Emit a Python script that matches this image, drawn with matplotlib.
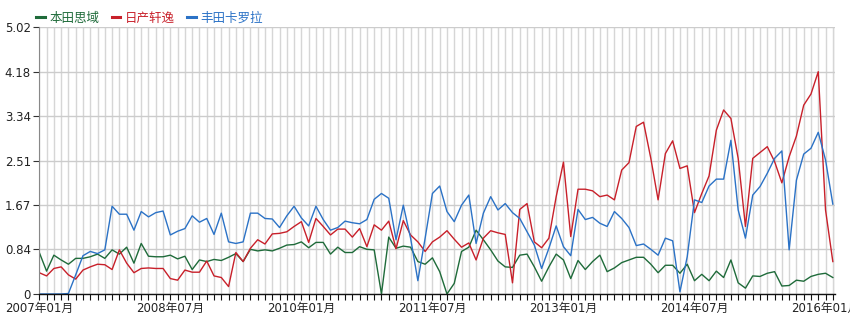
import matplotlib
matplotlib.use("Agg")
import matplotlib.pyplot as plt
import numpy as np

plt.rcParams["font.family"] = ["DejaVu Sans", "Noto Sans CJK SC"]

# monthly values, 2007-01 .. 2016-02
civic = [
    0.78, 0.43, 0.73, 0.64, 0.56, 0.67, 0.67, 0.70, 0.75, 0.67,
    0.83, 0.75, 0.88, 0.58, 0.95, 0.71, 0.70, 0.70, 0.73, 0.66,
    0.71, 0.46, 0.64, 0.61, 0.65, 0.63, 0.69, 0.76, 0.61, 0.84,
    0.81, 0.83, 0.81, 0.86, 0.92, 0.93, 0.98, 0.87, 0.97, 0.97,
    0.75, 0.88, 0.78, 0.78, 0.89, 0.84, 0.83, 0.00, 1.07, 0.86,
    0.90, 0.88, 0.61, 0.56, 0.68, 0.42, 0.00, 0.20, 0.80, 0.88,
    1.20, 1.02, 0.83, 0.62, 0.51, 0.50, 0.73, 0.75, 0.51, 0.24,
    0.51, 0.75, 0.64, 0.29, 0.63, 0.46, 0.61, 0.73, 0.42, 0.49,
    0.59, 0.64, 0.69, 0.69, 0.56, 0.40, 0.54, 0.54, 0.39, 0.56,
    0.25, 0.37, 0.25, 0.43, 0.31, 0.64, 0.21, 0.11, 0.34, 0.33,
    0.39, 0.42, 0.15, 0.16, 0.26, 0.24, 0.33, 0.37, 0.39, 0.31,
]
sylphy = [
    0.40, 0.34, 0.48, 0.51, 0.36, 0.28, 0.45, 0.51, 0.56, 0.55,
    0.46, 0.83, 0.58, 0.40, 0.48, 0.49, 0.48, 0.48, 0.29, 0.26,
    0.45, 0.41, 0.41, 0.62, 0.34, 0.31, 0.14, 0.78, 0.61, 0.86,
    1.02, 0.94, 1.13, 1.14, 1.17, 1.27, 1.36, 0.97, 1.42, 1.27,
    1.11, 1.22, 1.22, 1.07, 1.23, 0.89, 1.30, 1.20, 1.37, 0.85,
    1.38, 1.11, 0.98, 0.80, 0.98, 1.07, 1.19, 1.03, 0.88, 0.96,
    0.64, 1.05, 1.19, 1.15, 1.12, 0.21, 1.59, 1.70, 0.98, 0.87,
    1.05, 1.83, 2.48, 1.08, 1.97, 1.97, 1.94, 1.83, 1.86, 1.77,
    2.33, 2.47, 3.15, 3.23, 2.55, 1.77, 2.64, 2.88, 2.36, 2.41,
    1.53, 1.89, 2.22, 3.08, 3.46, 3.30, 2.55, 1.27, 2.55, 2.66,
    2.77, 2.49, 2.09, 2.58, 2.97, 3.55, 3.76, 4.18, 1.58, 0.61,
]
corolla = [
    0.00, 0.00, 0.00, 0.00, 0.01, 0.36, 0.72, 0.80, 0.76, 0.83,
    1.65, 1.50, 1.50, 1.20, 1.55, 1.45, 1.53, 1.56, 1.11, 1.18,
    1.23, 1.47, 1.35, 1.42, 1.12, 1.52, 0.98, 0.95, 0.98, 1.52,
    1.52, 1.42, 1.41, 1.25, 1.47, 1.65, 1.43, 1.28, 1.65, 1.40,
    1.20, 1.25, 1.37, 1.34, 1.32, 1.40, 1.78, 1.89, 1.80, 1.02,
    1.67, 1.05, 0.25, 1.05, 1.89, 2.03, 1.55, 1.36, 1.67, 1.86,
    0.95, 1.52, 1.83, 1.58, 1.70, 1.53, 1.42, 1.17, 0.92, 0.48,
    0.86, 1.28, 0.89, 0.72, 1.59, 1.40, 1.44, 1.33, 1.27, 1.55,
    1.42, 1.25, 0.91, 0.94, 0.84, 0.73, 1.05, 1.00, 0.04, 0.70,
    1.77, 1.72, 2.03, 2.16, 2.16, 2.89, 1.58, 1.05, 1.86, 2.02,
    2.27, 2.55, 2.69, 0.83, 2.14, 2.63, 2.74, 3.04, 2.52, 1.69,
]
series_names = ["本田思域", "日产轩逸", "丰田卡罗拉"]
series_colors = ["#1f6b3a", "#c8202a", "#2b72c6"]

y_ticks = [0, 0.84, 1.67, 2.51, 3.34, 4.18, 5.02]
y_tick_labels = ["0", "0.84", "1.67", "2.51", "3.34", "4.18", "5.02"]
x_tick_pos = [0, 18, 36, 54, 72, 90, 108]
x_tick_labels = ["2007年01月", "2008年07月", "2010年01月", "2011年07月",
                 "2013年01月", "2014年07月", "2016年01月"]


def main() -> None:
    fig = plt.figure(figsize=(8.5, 3.23), dpi=100)
    ax = fig.add_axes([39.3 / 850, 29 / 323, 795.7 / 850, 267 / 323])

    months = np.arange(len(civic))
    for values, name, color in zip([civic, sylphy, corolla], series_names, series_colors):
        ax.plot(months, values, color=color, linewidth=1.0, label=name)

    ax.set_xlim(0, 109.3)
    ax.set_ylim(0, 5.02)

    ax.set_yticks(y_ticks)
    ax.set_yticklabels(y_tick_labels, fontsize=8.5, color="#222222")
    ax.set_xticks(x_tick_pos)
    ax.set_xticklabels(x_tick_labels, fontsize=8.5, color="#222222")
    ax.set_xticks(np.arange(0, 110), minor=True)

    ax.tick_params(axis="x", which="both", length=4, width=0.8, color="#111111", pad=2)
    ax.tick_params(axis="y", length=4, width=0.8, color="#333333", pad=2)

    ax.grid(True, axis="y", color="#cccccc", linewidth=1.0)
    ax.grid(True, axis="x", which="minor", color="#d6d6d6", linewidth=1.0)
    ax.grid(True, axis="x", which="major", color="#d6d6d6", linewidth=1.0)
    ax.axvline(109.3, color="#d6d6d6", linewidth=1.0)
    ax.set_axisbelow(True)

    for side in ["top", "right"]:
        ax.spines[side].set_visible(False)
    ax.spines["left"].set_color("#888888")
    ax.spines["bottom"].set_color("#111111")
    ax.spines["bottom"].set_linewidth(1.0)

    leg = ax.legend(
        loc="lower left", bbox_to_anchor=(-0.012, 0.985), ncol=3, frameon=False,
        fontsize=9, handlelength=0.7, handletextpad=0.35, columnspacing=1.0,
        borderaxespad=0.1, labelcolor="linecolor",
    )
    for line in leg.get_lines():
        line.set_linewidth(2.2)

    fig.savefig("out.png", dpi=100)
    plt.close(fig)


if __name__ == "__main__":
    main()
